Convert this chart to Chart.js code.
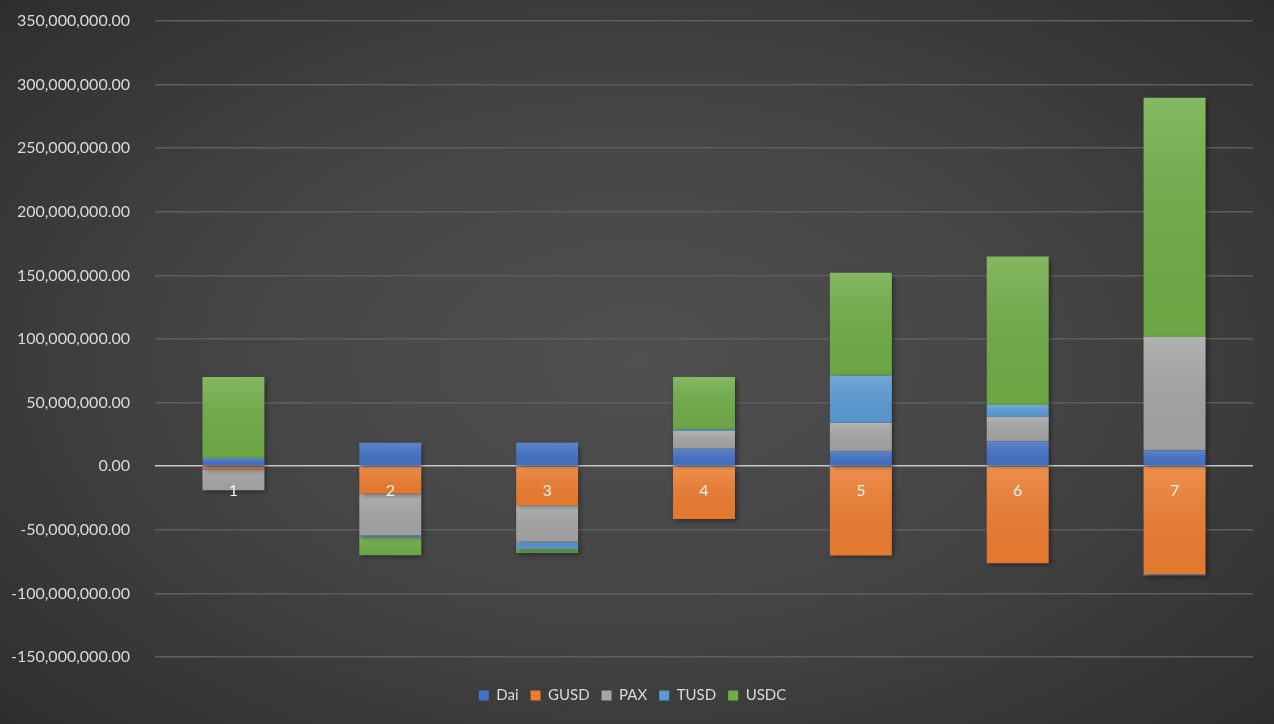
<!DOCTYPE html>
<html>
<head>
<meta charset="utf-8">
<script src="https://cdn.jsdelivr.net/npm/chart.js@4"></script>
<style>
  html, body { margin: 0; padding: 0; }
  body {
    width: 1274px; height: 724px; overflow: hidden;
    background: radial-gradient(ellipse 75% 80% at 50% 50%, #505050 0%, #444444 45%, #2a2a2a 100%);
  }
  #wrap { position: relative; width: 1274px; height: 724px; }
</style>
</head>
<body>
<div id="wrap"><canvas id="chart" width="1274" height="724"></canvas></div>
<script>
var labels = ['1', '2', '3', '4', '5', '6', '7'];
var dai  = [6500000, 18400000, 18400000, 13700000, 11800000, 19700000, 12300000];
var gusd = [-2600000, -21500000, -30700000, -41500000, -70200000, -76200000, -84900000];
var pax  = [-16400000, -32800000, -28400000, 13900000, 22300000, 18900000, 89300000];
var tusd = [0, -1600000, -6000000, 1300000, 37300000, 9500000, -1000000];
var usdc = [63700000, -14200000, -3200000, 41300000, 80700000, 116700000, 188100000];

var font = "Lato, 'Open Sans', sans-serif";
var ctx = document.getElementById("chart").getContext("2d");

function ds(name, data, color){
  return {
    label: name,
    data: data,
    backgroundColor: color,
    borderWidth: 0,
    barPercentage: 0.395,
    categoryPercentage: 1
  };
}

// soft shadow under the bars + light sheen on each segment
var barStyle = {
  id: 'barStyle',
  beforeDatasetsDraw: function(chart){
    var c = chart.ctx;
    c.save();
    c.shadowColor = 'rgba(0,0,0,0.45)';
    c.shadowBlur = 5;
    c.shadowOffsetX = 2;
    c.shadowOffsetY = 2;
  },
  afterDatasetsDraw: function(chart){
    var c = chart.ctx;
    c.restore();
    chart.data.datasets.forEach(function(d, i){
      chart.getDatasetMeta(i).data.forEach(function(bar){
        var top = Math.min(bar.y, bar.base), bot = Math.max(bar.y, bar.base);
        if (bot - top < 1) return;
        var g = c.createLinearGradient(0, top, 0, bot);
        g.addColorStop(0, 'rgba(255,255,255,0.14)');
        g.addColorStop(1, 'rgba(0,0,0,0.04)');
        c.fillStyle = g;
        c.fillRect(bar.x - bar.width / 2, top, bar.width, bot - top);
      });
    });
  }
};

var chart = new Chart(ctx, {
  type: 'bar',
  data: {
    labels: labels,
    datasets: [
      ds('Dai', dai, '#4472C4'),
      ds('GUSD', gusd, '#ED7D31'),
      ds('PAX', pax, '#A5A5A5'),
      ds('TUSD', tusd, '#5B9BD5'),
      ds('USDC', usdc, '#70AD47')
    ]
  },
  plugins: [barStyle],
  options: {
    responsive: false,
    animation: false,
    layout: { padding: { left: 12, right: 21, top: 21, bottom: 11 } },
    plugins: {
      tooltip: { enabled: false },
      legend: {
        position: 'bottom',
        labels: {
          color: '#d9d9d9',
          boxWidth: 10,
          boxHeight: 10,
          padding: 12,
          font: { family: font, size: 15 }
        }
      }
    },
    scales: {
      x: {
        stacked: true,
        position: { y: 0 },
        grid: { display: false, drawTicks: false },
        border: { display: false },
        ticks: {
          z: 1,
          color: '#f2f2f2',
          padding: 15,
          font: { family: font, size: 16 }
        }
      },
      gap: {
        type: 'category',
        position: 'bottom',
        grid: { display: false, drawTicks: false },
        border: { display: false },
        ticks: { display: false },
        afterFit: function(scale){ scale.height = 19; }
      },
      y: {
        stacked: true,
        min: -150000000,
        max: 350000000,
        afterFit: function(scale){
          scale.width = 143;
          scale.paddingTop = 0;
          scale.paddingBottom = 0;
        },
        ticks: {
          stepSize: 50000000,
          color: '#d9d9d9',
          padding: 25,
          font: { family: font, size: 16 },
          callback: function(v){
            return v.toLocaleString('en-US', { minimumFractionDigits: 2, maximumFractionDigits: 2 });
          }
        },
        grid: {
          drawTicks: false,
          lineWidth: 1.5,
          color: function(c){ return c.tick && c.tick.value === 0 ? '#c8c8c8' : '#5e5e5e'; }
        },
        border: { display: false }
      }
    }
  }
});
</script>
</body>
</html>
